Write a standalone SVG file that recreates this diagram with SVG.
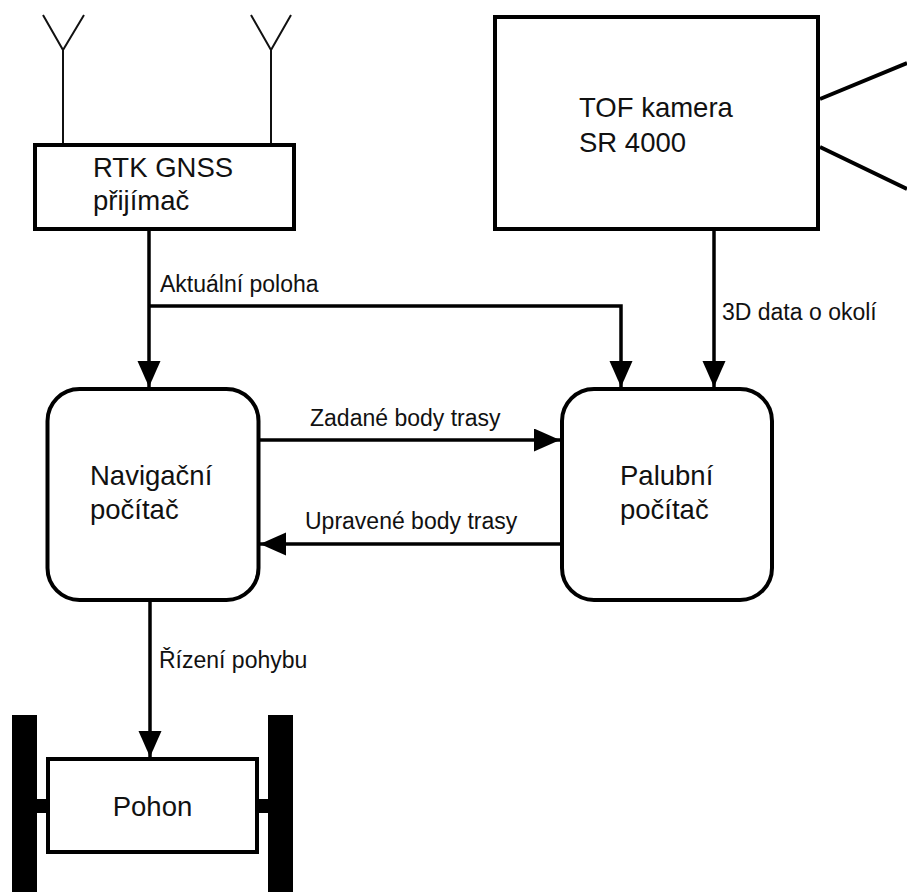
<svg xmlns="http://www.w3.org/2000/svg" width="907" height="892" viewBox="0 0 907 892">
<defs>
<style>
.box{fill:#fff;stroke:#000;stroke-width:4}
.nt{font-family:"Liberation Sans",Arial,sans-serif;font-size:27.5px;fill:#111}
.lt{font-family:"Liberation Sans",Arial,sans-serif;font-size:23px;fill:#111}
.conn{fill:none;stroke:#000;stroke-width:3.5}
.ant{fill:none;stroke:#111;stroke-width:2}
</style>
<marker id="ah" markerUnits="userSpaceOnUse" markerWidth="27" markerHeight="24" refX="26" refY="11.5" orient="auto">
<path d="M0,0 L26,11.5 L0,23 Z" fill="#000"/>
</marker>
</defs>
<g id="antennas">
<path class="ant" d="M63,143 V50 M43,15 L63,50 L84,15"/>
<path class="ant" d="M271,143 V50 M251,15 L271,50 L291,15"/>
</g>
<g id="rtk">
<rect class="box" x="35" y="145" width="259" height="84"/>
<text class="nt" x="93" y="177">RTK GNSS</text>
<text class="nt" x="93" y="210">přijímač</text>
</g>
<g id="tof">
<path d="M820,99 L907,63 M820,147 L907,189" stroke="#000" stroke-width="4" fill="none"/>
<rect class="box" x="495" y="17" width="323" height="212"/>
<text class="nt" x="579" y="117">TOF kamera</text>
<text class="nt" x="579" y="152">SR 4000</text>
</g>
<g id="nav">
<rect class="box" x="47.5" y="389" width="211" height="211" rx="32" ry="32"/>
<text class="nt" x="90" y="485">Navigační</text>
<text class="nt" x="90" y="519">počítač</text>
</g>
<g id="palubni">
<rect class="box" x="562" y="389" width="210" height="211" rx="32" ry="32"/>
<text class="nt" x="620" y="485">Palubní</text>
<text class="nt" x="620" y="519">počítač</text>
</g>
<g id="pohon">
<rect x="12" y="715" width="25" height="177" fill="#000"/>
<rect x="268" y="715" width="25" height="177" fill="#000"/>
<rect x="37" y="799" width="10" height="14" fill="#000"/>
<rect x="258" y="799" width="10" height="14" fill="#000"/>
<rect class="box" x="48" y="759" width="209" height="93"/>
<text class="nt" x="152.5" y="816" text-anchor="middle">Pohon</text>
</g>
<g id="connectors">
<path class="conn" d="M149,231 V387" marker-end="url(#ah)"/>
<path class="conn" d="M149,306 H621 V387" marker-end="url(#ah)"/>
<path class="conn" d="M714,231 V387" marker-end="url(#ah)"/>
<path class="conn" d="M260,440 H560" marker-end="url(#ah)"/>
<path class="conn" d="M560,544 H260" marker-end="url(#ah)"/>
<path class="conn" d="M150,602 V757" marker-end="url(#ah)"/>
<text class="lt" x="160" y="292">Aktuální poloha</text>
<text class="lt" x="722" y="320">3D data o okolí</text>
<text class="lt" x="310" y="426">Zadané body trasy</text>
<text class="lt" x="305" y="529">Upravené body trasy</text>
<text class="lt" x="159" y="668">Řízení pohybu</text>
</g>
</svg>
